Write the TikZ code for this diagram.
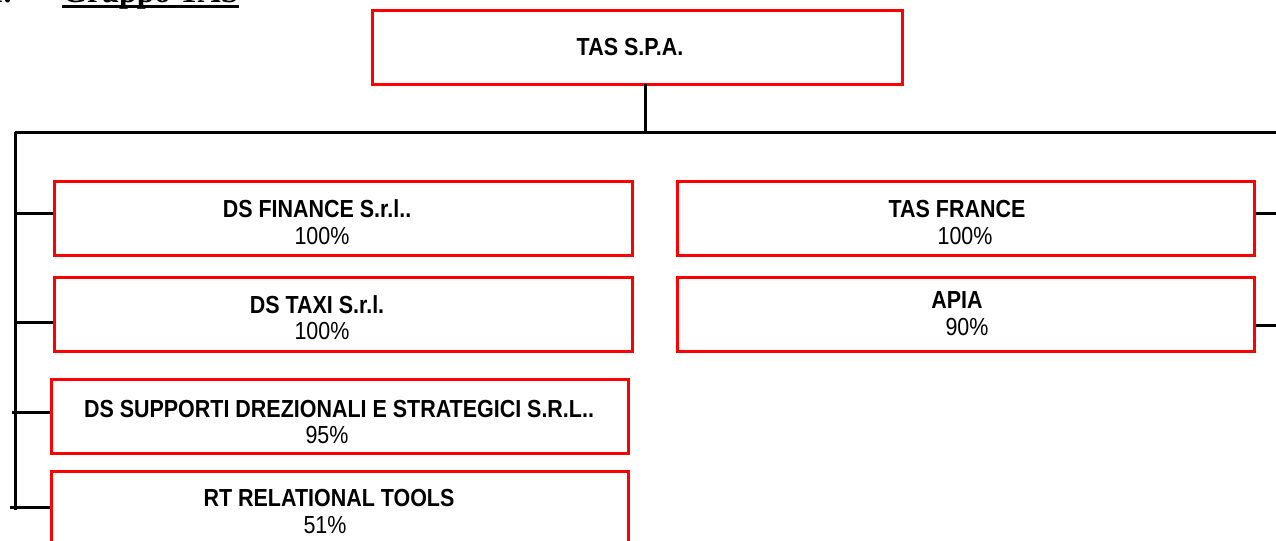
\documentclass[tikz,border=0pt]{standalone}
\usepackage{fontspec}
\setmainfont{Liberation Sans}
\newfontfamily\narrowfont[FakeStretch=0.87]{Liberation Sans}
\newfontfamily\headfont{Liberation Serif}
\begin{document}
\begin{tikzpicture}[x=0.75pt,y=-0.75pt,
  company/.style={draw=red,line width=2.25pt,minimum width=#1*0.75pt,minimum height=55.5pt,inner sep=0pt},
  company/.default=577,
  ttl/.style={inner sep=0pt,font=\narrowfont\bfseries\fontsize{18.5}{21}\selectfont},
  pct/.style={inner sep=0pt,font=\narrowfont\fontsize{18.5}{21}\selectfont},
  conn/.style={line width=2.25pt,black}]
\useasboundingbox (0,0) rectangle (1276,540);
% heading (cut off at top)
\node[anchor=base east,inner sep=0pt,font=\headfont\bfseries\fontsize{24}{28}\selectfont] (num) at (12,2.5) {1.};
\node[anchor=base west,inner sep=0pt,font=\headfont\bfseries\fontsize{24}{28}\selectfont] (head) at (62,2.5) {Gruppo TAS};
\draw[line width=2.4pt] ([yshift=-3.2pt]head.base west) -- ([yshift=-3.2pt]head.base east);
% boxes
\node[company=530] (tas) at (637,47.5) {};
\node[company=578] (dsf) at (343,218) {};
\node[company=578] (dst) at (343,314) {};
\node[company] (dss) at (339.5,416) {};
\node[company,minimum height=57.75pt] (rt) at (339.5,509.5) {};
\node[company] (tf) at (965.5,218) {};
\node[company] (apia) at (965.5,314) {};
% texts
\node[ttl] (tas-t) at (630,47) {TAS S.P.A.};
\node[ttl] (dsf-t) at (317,209) {DS FINANCE S.r.l..};
\node[pct] (dsf-p) at (322,236) {100\%};
\node[ttl] (dst-t) at (317,305) {DS TAXI S.r.l.};
\node[pct] (dst-p) at (322,331) {100\%};
\node[ttl] (dss-t) at (339,409) {DS SUPPORTI DREZIONALI E STRATEGICI S.R.L..};
\node[pct] (dss-p) at (327,435) {95\%};
\node[ttl] (rt-t) at (329,498) {RT RELATIONAL TOOLS};
\node[pct] (rt-p) at (325,525) {51\%};
\node[ttl] (tf-t) at (957,209) {TAS FRANCE};
\node[pct] (tf-p) at (965,236) {100\%};
\node[ttl] (apia-t) at (957,300) {APIA};
\node[pct] (apia-p) at (967,327) {90\%};
% connector coordinates
\coordinate (t0) at (645,84);
\coordinate (t1) at (645,132);
\coordinate (hl) at (15,132);
\coordinate (hr) at (1276,132);
\coordinate (vb) at (15,510);
\coordinate (b1) at (15,213);
\coordinate (b2) at (15,322);
\coordinate (b3) at (12,412);
\coordinate (b4) at (10,507);
\coordinate (r1) at (1276,213);
\coordinate (r2) at (1276,325);
% connectors
\draw[conn] (t0) -- (t1);
\draw[conn] (hl) -- (hr);
\draw[conn] (hl) -- (vb);
\draw[conn] (b1) -- (dsf.west |- b1);
\draw[conn] (b2) -- (dst.west |- b2);
\draw[conn] (b3) -- (dss.west |- b3);
\draw[conn] (b4) -- (rt.west |- b4);
\draw[conn] (tf.east |- r1) -- (r1);
\draw[conn] (apia.east |- r2) -- (r2);
\end{tikzpicture}
\end{document}
